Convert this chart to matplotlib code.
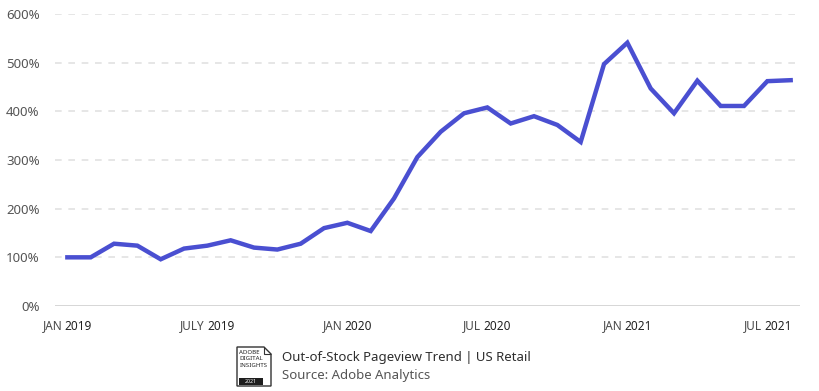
import matplotlib
matplotlib.use("Agg")
import matplotlib.pyplot as plt
import matplotlib.transforms as mtransforms
from matplotlib.patches import Polygon, Rectangle
import numpy as np

# ---- data ----
months = ["2019-01", "2019-02", "2019-03", "2019-04", "2019-05", "2019-06", "2019-07", "2019-08",
          "2019-09", "2019-10", "2019-11", "2019-12", "2020-01", "2020-02", "2020-03", "2020-04",
          "2020-05", "2020-06", "2020-07", "2020-08", "2020-09", "2020-10", "2020-11", "2020-12",
          "2021-01", "2021-02", "2021-03", "2021-04", "2021-05", "2021-06", "2021-07", "2021-08"]
values = [100, 100, 128, 124, 96, 118, 124, 135, 120, 116, 128, 160, 171, 154, 221, 306,
          358, 396, 408, 375, 390, 372, 337, 497, 541, 447, 396, 463, 411, 411, 462, 464]
tick_idx = [0, 6, 12, 18, 24, 30]
tick_month = ["JAN", "JULY", "JAN", "JUL", "JAN", "JUL"]
tick_year = ["2019", "2019", "2020", "2020", "2021", "2021"]
yticks = [0, 100, 200, 300, 400, 500, 600]
ytick_labels = ["0%", "100%", "200%", "300%", "400%", "500%", "600%"]
caption_title = "Out-of-Stock Pageview Trend | US Retail"
caption_source = "Source: Adobe Analytics"

FONT = ["Noto Sans", "DejaVu Sans"]
plt.rcParams["font.family"] = FONT

W, H = 820, 391
fig = plt.figure(figsize=(W / 100, H / 100), dpi=100)
ax = fig.add_axes([55 / W, 1 - 306 / H, (800 - 55) / W, (306 - 14) / H])

x = np.arange(len(values))
ax.plot(x, values, color="#4a4fd1", lw=3.2, solid_joinstyle="miter", zorder=3)

ax.set_xlim(-0.53, 31.4)
ax.set_ylim(0, 600)
for s in ax.spines.values():
    s.set_visible(False)
for yv in yticks[1:]:
    ax.axhline(yv, color="#e2e2e2", lw=1.2, ls=(0, (4, 4)), zorder=1)
ax.axhline(0, color="#cfcfcf", lw=1.2, zorder=1)

ax.set_yticks(yticks)
ax.set_yticklabels(ytick_labels, fontsize=9.5, color="#555555")
ax.tick_params(axis="y", length=0, pad=11)
ax.set_xticks([])

# two-weight x tick labels, centered on tick positions
renderer = fig.canvas.get_renderer()
trans = mtransforms.blended_transform_factory(ax.transData, fig.transFigure)
ylab = 1 - 326 / H
GAP = 2.5  # extra pixels between month and year
for i, m, yr in zip(tick_idx, tick_month, tick_year):
    t1 = ax.text(i, ylab, m, transform=trans, ha="left", va="center",
                 fontsize=8.5, color="#4a4a4a")
    t2 = ax.text(i, ylab, yr, transform=trans, ha="left", va="center",
                 fontsize=8.5, color="#222222", fontweight="bold")
    w1 = t1.get_window_extent(renderer).width
    w2 = t2.get_window_extent(renderer).width
    total = w1 + GAP + w2
    t1.set_transform(mtransforms.offset_copy(trans, fig=fig, x=-total / 2 * 72 / 100, units="points"))
    t2.set_transform(mtransforms.offset_copy(trans, fig=fig, x=(w1 + GAP - total / 2) * 72 / 100, units="points"))

# logo
def fx(px):
    return px / W

def fy(py):
    return 1 - py / H

logo = Polygon([(fx(237), fy(347)), (fx(264), fy(347)), (fx(271), fy(354)),
                (fx(271), fy(386)), (fx(237), fy(386))], closed=True,
               transform=fig.transFigure, facecolor="white", edgecolor="#333333", lw=1.0)
fig.patches.append(logo)
fold = Polygon([(fx(264), fy(347)), (fx(264), fy(354)), (fx(271), fy(354))], closed=False,
               transform=fig.transFigure, facecolor="none", edgecolor="#333333", lw=0.8)
fig.patches.append(fold)
bar = Rectangle((fx(239), fy(385)), fx(263) - fx(239), fy(377.5) - fy(385),
                transform=fig.transFigure, facecolor="#1e1e1e", edgecolor="none")
fig.patches.append(bar)
for txt, py in [("ADOBE", 352.5), ("DIGITAL", 359), ("INSIGHTS", 365.5)]:
    fig.text(fx(239.5), fy(py), txt, fontsize=4.4, fontweight="bold", color="#222222",
             ha="left", va="center")
fig.text(fx(251), fy(381.3), "2021", fontsize=3.8, color="white", ha="center", va="center")

fig.text(fx(282), fy(357), caption_title, fontsize=9.5, color="#2e2e2e", ha="left", va="center")
fig.text(fx(282), fy(375), caption_source, fontsize=9.5, color="#555555", ha="left", va="center")

fig.savefig("out.png", dpi=100, facecolor="white")
